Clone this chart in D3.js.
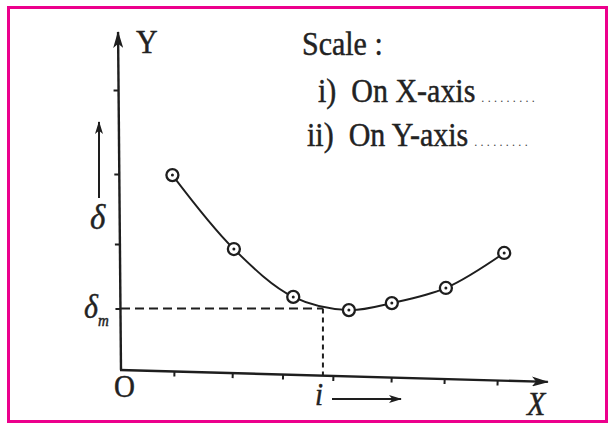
<!DOCTYPE html>
<html>
<head>
<meta charset="utf-8">
<script src="https://cdn.jsdelivr.net/npm/d3@7"></script>
<style>
  body { margin: 0; background: #fff; }
</style>
</head>
<body>
<div id="chart"></div>
<script>
// Données (unités arbitraires)
const incidence = [0.97, 2.13, 3.25, 4.3, 5.11, 6.13, 7.23];
const deviation = [6.96, 4.32, 2.61, 2.14, 2.39, 2.93, 4.18];
const xTicks = [1, 2.1, 3.05, 4, 5.1, 6.1, 7.1];
const yTicks = [4.5, 7, 10];
const iMin = 3.81, deltaMin = 2.2;
const scaleLines = ["i)  On X-axis", "ii)  On Y-axis"];

const width = 614, height = 433;
const ink = "#1e1e1e";
const serif = "'Liberation Serif', 'Times New Roman', 'DejaVu Serif', serif";

const svg = d3.select("#chart").append("svg")
    .attr("width", width)
    .attr("height", height)
    .attr("font-family", serif);

// cadre rose
svg.append("rect")
    .attr("x", 8.5).attr("y", 7.5)
    .attr("width", 598).attr("height", 414)
    .attr("fill", "#fff")
    .attr("stroke", "#ec008c")
    .attr("stroke-width", 3);

const x = d3.scaleLinear().domain([0, 8]).range([121, 545]);
const y = d3.scaleLinear().domain([0, 12]).range([370, 34]);

// têtes de flèche
const defs = svg.append("defs");
function arrowMarker(id, len, wid) {
    defs.append("marker")
        .attr("id", id)
        .attr("markerUnits", "userSpaceOnUse")
        .attr("viewBox", `0 ${-wid / 2} ${len} ${wid}`)
        .attr("refX", len - 1).attr("refY", 0)
        .attr("markerWidth", len).attr("markerHeight", wid)
        .attr("orient", "auto")
        .append("path")
        .attr("d", `M0,${-wid / 2}L${len},0L0,${wid / 2}L${len * 0.25},0Z`)
        .attr("fill", ink);
}
arrowMarker("big", 17, 10);
arrowMarker("small", 13, 8);

// axe Y (légèrement penché comme sur le scan)
const gy = svg.append("g").attr("transform", `rotate(-0.5, ${x(0)}, ${y(0)})`);
gy.append("line")
    .attr("x1", x(0)).attr("y1", y(0))
    .attr("x2", x(0)).attr("y2", y(12) - 2)
    .attr("stroke", ink).attr("stroke-width", 2.4)
    .attr("marker-end", "url(#big)");
gy.append("g")
    .attr("transform", `translate(${x(0)},0)`)
    .call(d3.axisLeft(y).tickValues(yTicks.concat([deltaMin])).tickSize(5).tickFormat(""))
    .call(g => g.select(".domain").remove())
    .call(g => g.selectAll("line").attr("stroke", ink).attr("stroke-width", 2));

// axe X (légèrement incliné)
const gx = svg.append("g").attr("transform", `rotate(1.6, ${x(0)}, ${y(0)})`);
gx.append("line")
    .attr("x1", x(0) - 1).attr("y1", y(0))
    .attr("x2", x(8) + 3).attr("y2", y(0))
    .attr("stroke", ink).attr("stroke-width", 2.4)
    .attr("marker-end", "url(#big)");
gx.append("g")
    .attr("transform", `translate(0,${y(0)})`)
    .call(d3.axisBottom(x).tickValues(xTicks).tickSize(5).tickFormat(""))
    .call(g => g.select(".domain").remove())
    .call(g => g.selectAll("line").attr("stroke", ink).attr("stroke-width", 2));

// lignes pointillées vers le minimum
const slope = Math.tan(1.6 * Math.PI / 180);
svg.append("line")
    .attr("x1", x(0)).attr("y1", y(deltaMin))
    .attr("x2", x(iMin)).attr("y2", y(deltaMin))
    .attr("stroke", ink).attr("stroke-width", 2)
    .attr("stroke-dasharray", "9,5");
svg.append("line")
    .attr("x1", x(iMin)).attr("y1", y(deltaMin))
    .attr("x2", x(iMin)).attr("y2", y(0) + (x(iMin) - x(0)) * slope)
    .attr("stroke", ink).attr("stroke-width", 2)
    .attr("stroke-dasharray", "5,4");

// courbe
const pts = incidence.map((v, i) => [v, deviation[i]]);
const line = d3.line()
    .x(d => x(d[0]))
    .y(d => y(d[1]))
    .curve(d3.curveCatmullRom.alpha(0.5));
svg.append("path")
    .datum(pts)
    .attr("d", line)
    .attr("fill", "none")
    .attr("stroke", ink)
    .attr("stroke-width", 1.9);

// points entourés
const marks = svg.selectAll(".pt")
    .data(pts)
    .enter().append("g")
    .attr("class", "pt")
    .attr("transform", d => `translate(${x(d[0])},${y(d[1])})`);
marks.append("circle")
    .attr("r", 6)
    .attr("fill", "#fff")
    .attr("stroke", ink)
    .attr("stroke-width", 2.3);
marks.append("circle")
    .attr("r", 1.5)
    .attr("fill", ink);

// étiquettes (un peu étirées en hauteur comme la police du scan)
function label(xp, yp, size, txt, italic) {
    return svg.append("text")
        .attr("transform", `translate(${xp},${yp}) scale(1,1.1)`)
        .attr("font-size", size)
        .attr("font-style", italic ? "italic" : "normal")
        .attr("fill", "#222")
        .attr("stroke", "#222").attr("stroke-width", 0.4)
        .text(txt);
}
label(136, 53, 30, "Y");
label(114, 397, 29, "O");
label(527, 415, 30, "X", true);
label(315, 405, 29, "i", true);
svg.append("line")
    .attr("x1", 332).attr("y1", 399)
    .attr("x2", 401).attr("y2", 399)
    .attr("stroke", ink).attr("stroke-width", 2)
    .attr("marker-end", "url(#small)");

// δ avec flèche verticale
svg.append("line")
    .attr("x1", 99).attr("y1", 198)
    .attr("x2", 99).attr("y2", 122)
    .attr("stroke", ink).attr("stroke-width", 2)
    .attr("marker-end", "url(#small)");
label(90, 229, 33, "δ", true);

// δm
label(84, 318, 30, "δ", true);
label(98, 326, 15, "m", true);

// bloc « Scale »
label(302, 55, 30, "Scale :");
const lineX = [318, 307], lineY = [102, 146];
scaleLines.forEach((s, i) => {
    const t = label(lineX[i], lineY[i], 30, null).attr("xml:space", "preserve");
    t.append("tspan").text(s);
    t.append("tspan").attr("font-size", 12).attr("dx", 6)
        .attr("stroke-width", 0).attr("letter-spacing", 3.3)
        .attr("fill", "#444").text(".........");
});
</script>
</body>
</html>
